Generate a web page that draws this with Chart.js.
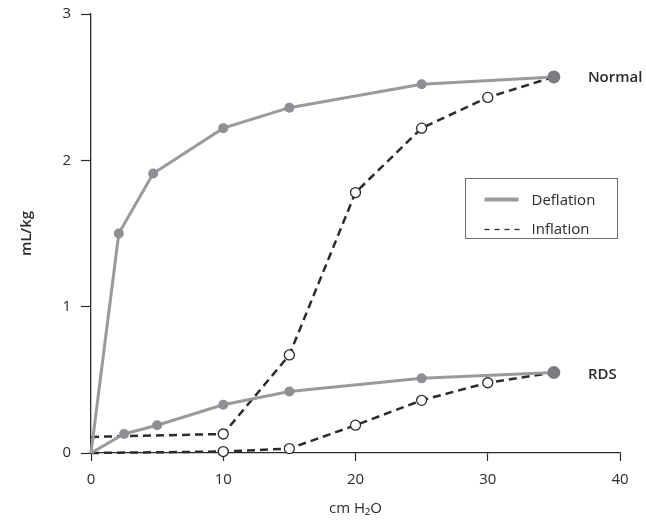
<!DOCTYPE html>
<html>
<head>
<meta charset="utf-8">
<script src="https://cdn.jsdelivr.net/npm/chart.js@4.4.1/dist/chart.umd.min.js"></script>
<style>
  html, body { margin: 0; padding: 0; background: #fff; }
  #wrap { width: 646px; height: 522px; }
</style>
</head>
<body>
<div id="wrap"><canvas id="c" width="646" height="522"></canvas></div>
<script>
// Pressure–volume curves (cm H2O vs mL/kg)
const normalDeflX = [0, 2.1, 4.7, 10, 15, 25, 35];
const normalDeflY = [0, 1.50, 1.91, 2.22, 2.36, 2.52, 2.57];
const normalInflX = [0, 10, 15, 20, 25, 30, 35];
const normalInflY = [0.11, 0.13, 0.67, 1.78, 2.22, 2.43, 2.57];
const rdsDeflX = [0, 2.5, 5, 10, 15, 25, 35];
const rdsDeflY = [0, 0.13, 0.19, 0.33, 0.42, 0.51, 0.55];
const rdsInflX = [0, 10, 15, 20, 25, 30, 35];
const rdsInflY = [0, 0.01, 0.03, 0.19, 0.36, 0.48, 0.55];
const curveLabels = ['Normal', 'RDS'];
const legendLabels = ['Deflation', 'Inflation'];
const xTicks = [0, 10, 20, 30, 40];
const yTicks = [0, 1, 2, 3];

const FONT = "'Open Sans', 'Liberation Sans', sans-serif";
const GRAY = '#9a9a9e';
const DOT = '#8e8e93';
const END_DOT = '#7c7c80';
const INK = '#2b2b2b';

const pts = (xs, ys) => xs.map((x, i) => ({ x, y: ys[i] }));

// marker sizes: none at the origin, larger dot at the final point
function deflRadius(n) { return Array.from({ length: n }, (_, i) => i === 0 ? 0 : (i === n - 1 ? 6.5 : 5)); }
function deflColor(n) { return Array.from({ length: n }, (_, i) => i === n - 1 ? END_DOT : DOT); }
function inflRadius(n) { return Array.from({ length: n }, (_, i) => (i === 0 || i === n - 1) ? 0 : 5); }

function deflation(xs, ys) {
  return {
    data: pts(xs, ys),
    borderColor: GRAY,
    borderWidth: 3,
    pointRadius: deflRadius(xs.length),
    pointBackgroundColor: deflColor(xs.length),
    pointBorderColor: deflColor(xs.length),
    pointBorderWidth: 0,
    tension: 0,
    clip: false
  };
}
function inflation(xs, ys) {
  return {
    data: pts(xs, ys),
    borderColor: INK,
    borderWidth: 2.5,
    borderDash: [8, 5],
    pointRadius: inflRadius(xs.length),
    pointBackgroundColor: '#ffffff',
    pointBorderColor: INK,
    pointBorderWidth: 1.3,
    tension: 0,
    clip: false
  };
}

// Curve names and the boxed legend, drawn on top of the plot
const annotations = {
  id: 'annotations',
  afterDraw(chart) {
    const { ctx, chartArea, scales } = chart;
    const xs = scales.x, ys = scales.y;
    ctx.save();
    ctx.fillStyle = INK;
    ctx.font = "600 15px " + FONT;
    ctx.textBaseline = 'middle';
    ctx.textAlign = 'left';
    ctx.fillText(curveLabels[0], xs.getPixelForValue(35) + 34, ys.getPixelForValue(normalDeflY[normalDeflY.length - 1]) + 1);
    ctx.fillText(curveLabels[1], xs.getPixelForValue(35) + 34, ys.getPixelForValue(rdsDeflY[rdsDeflY.length - 1]) + 2);

    // legend box
    const bx = chartArea.left + 374.5, by = chartArea.top + 164.5, bw = 152, bh = 60;
    ctx.strokeStyle = '#6e6e6e';
    ctx.lineWidth = 1;
    ctx.strokeRect(bx, by, bw, bh);

    const sx = bx + 19, ex = bx + 53;
    const y1 = by + 21, y2 = by + 51;
    ctx.strokeStyle = GRAY;
    ctx.lineWidth = 4;
    ctx.beginPath(); ctx.moveTo(sx, y1); ctx.lineTo(ex, y1); ctx.stroke();
    ctx.strokeStyle = INK;
    ctx.lineWidth = 1.3;
    ctx.setLineDash([5, 5]);
    ctx.beginPath(); ctx.moveTo(sx, y2); ctx.lineTo(ex + 1, y2); ctx.stroke();
    ctx.setLineDash([]);

    ctx.fillStyle = INK;
    ctx.font = "15px " + FONT;
    ctx.fillText(legendLabels[0], bx + 66, y1 + 1);
    ctx.fillText(legendLabels[1], bx + 66, y2 + 0);
    ctx.restore();
  }
};

new Chart(document.getElementById('c'), {
  type: 'line',
  data: {
    datasets: [
      deflation(normalDeflX, normalDeflY),
      deflation(rdsDeflX, rdsDeflY),
      inflation(normalInflX, normalInflY),
      inflation(rdsInflX, rdsInflY)
    ]
  },
  options: {
    responsive: false,
    animation: false,
    layout: { padding: { top: 14, right: 26, bottom: 0, left: 0 } },
    plugins: { legend: { display: false }, tooltip: { enabled: false } },
    scales: {
      x: {
        type: 'linear',
        min: 0, max: 40,
        afterBuildTicks(scale) { scale.ticks = xTicks.map(v => ({ value: v })); },
        afterFit(scale) { scale.height = 69; scale.paddingLeft = 0; scale.paddingRight = 0; },
        grid: { display: true, drawOnChartArea: false, drawTicks: true, tickLength: 8, tickWidth: 1.2, tickColor: INK },
        border: { display: true, color: INK, width: 1.3 },
        ticks: { color: INK, font: { family: FONT, size: 15 }, padding: 10, maxRotation: 0 },
        title: { display: true, text: 'cm H\u2082O', color: INK, font: { family: FONT, size: 15 }, padding: { top: 0, bottom: 4 } }
      },
      y: {
        type: 'linear',
        min: 0, max: 3,
        afterBuildTicks(scale) { scale.ticks = yTicks.map(v => ({ value: v })); },
        afterFit(scale) { scale.width = 91; scale.paddingTop = 0; scale.paddingBottom = 0; },
        grid: { display: true, drawOnChartArea: false, drawTicks: true, tickLength: 10, tickWidth: 1.2, tickColor: INK },
        border: { display: true, color: INK, width: 1.3 },
        ticks: { color: INK, font: { family: FONT, size: 15 }, padding: 10 },
        title: { display: true, text: 'mL/kg', color: INK, font: { family: FONT, size: 15, weight: '600' }, padding: { top: 18, bottom: 0 } }
      }
    }
  },
  plugins: [annotations]
});
</script>
</body>
</html>
